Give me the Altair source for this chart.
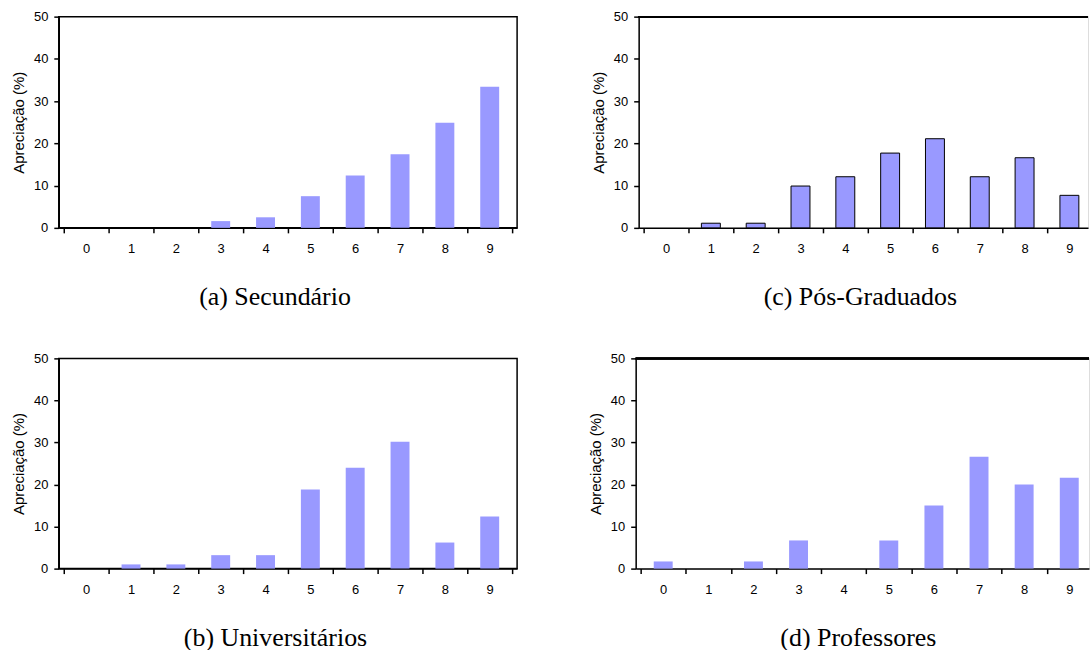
import altair as alt
import pandas as pd

notas = [0, 1, 2, 3, 4, 5, 6, 7, 8, 9]
secundario = [0, 0, 0, 1.6, 2.5, 7.5, 12.4, 17.4, 24.9, 33.4]
pos_graduados = [0, 1.1, 1.1, 9.9, 12.1, 17.7, 21.1, 12.1, 16.6, 7.7]
universitarios = [0, 1.0, 1.0, 3.2, 3.2, 18.8, 24.0, 30.2, 6.2, 12.4]
professores = [1.7, 0, 1.7, 6.7, 0, 6.7, 15.0, 26.6, 20.0, 21.6]
y_ticks = [0, 10, 20, 30, 40, 50]
titulos = ["(a) Secundário", "(c) Pós-Graduados", "(b) Universitários", "(d) Professores"]

SANS = "Liberation Sans"
SERIF = "Liberation Serif"
BAR_COLOR = "#9999FF"


def panel(values, title, outlined=False, width=460, step=46.0, height=212,
          dx=0, boxed=True):
    lo = -0.5
    hi = lo + width / step
    df = pd.DataFrame({"nota": notas, "v": values})
    bounds = [n - 0.5 for n in notas] + [notas[-1] + 0.5]
    bounds = [b for b in bounds if b <= hi + 1e-9]
    tick_vals = sorted(bounds + notas)

    x_scale = alt.Scale(domain=[lo, hi], nice=False, zero=False)
    y_scale = alt.Scale(domain=[0, 50], nice=False)

    bar_kw = dict(color=BAR_COLOR, width=19)
    if outlined:
        bar_kw.update(stroke="black", strokeWidth=1)

    bars = (
        alt.Chart(df)
        .transform_filter("datum.v > 0")
        .mark_bar(**bar_kw)
        .encode(
            x=alt.X(
                "nota:Q",
                scale=x_scale,
                axis=alt.Axis(
                    title=None,
                    values=tick_vals,
                    labelExpr="datum.value % 1 == 0 ? '' + datum.value : ''",
                    labelOverlap=False,
                    labelFlush=False,
                    labelFont=SANS,
                    labelFontSize=13,
                    labelColor="black",
                    labelPadding=9.5,
                    tickSize=5,
                    tickColor="black",
                    tickWidth=1.5,
                    tickOpacity=alt.condition("datum.value % 1 != 0", alt.value(1), alt.value(0)),
                    domainColor="black",
                    domainWidth=1.5,
                    grid=False,
                ),
            ),
            y=alt.Y(
                "v:Q",
                scale=y_scale,
                axis=alt.Axis(
                    values=y_ticks,
                    title="Apreciação (%)",
                    titleFont=SANS,
                    titleFontSize=15,
                    titleFontWeight="normal",
                    titleColor="black",
                    titlePadding=7,
                    labelFont=SANS,
                    labelFontSize=13,
                    labelColor="black",
                    labelPadding=6,
                    labelFlush=False,
                    tickSize=5,
                    tickColor="black",
                    tickWidth=1.5,
                    domainColor="black",
                    domainWidth=1.5,
                    grid=False,
                ),
            ),
        )
    )

    title_params = alt.TitleParams(
        text=title,
        orient="bottom",
        anchor="middle",
        frame="group",
        font=SERIF,
        fontSize=26,
        fontWeight="normal",
        color="black",
        offset=29,
        dx=dx,
    )

    if boxed:
        return bars.properties(
            width=width,
            height=height,
            title=title_params,
            view=alt.ViewBackground(stroke="black", strokeWidth=1.5),
        )

    top_line = (
        alt.Chart(df)
        .mark_rule(color="black", strokeWidth=1.5)
        .encode(y=alt.YDatum(y_ticks[-1], type="quantitative"))
    )
    return alt.layer(bars, top_line).properties(
        width=width,
        height=height,
        title=title_params,
    )


top = alt.hconcat(
    panel(secundario, titulos[0], dx=-13),
    panel(pos_graduados, titulos[1], outlined=True, width=451, step=46.0,
          dx=-3, boxed=False),
    spacing=73,
)
bottom = alt.hconcat(
    panel(universitarios, titulos[2], height=211, dx=-12.5),
    panel(professores, titulos[3], width=455, step=46.3, height=211,
          dx=-4, boxed=False),
    spacing=70,
)

chart = (
    alt.vconcat(top, bottom, spacing=40)
    .properties(padding={"left": 10, "top": 8.5, "right": 0, "bottom": 0})
    .configure_view(stroke=None)
    .configure(background="white")
)

chart.save("out.html", embed_options={"renderer": "svg", "actions": False})
